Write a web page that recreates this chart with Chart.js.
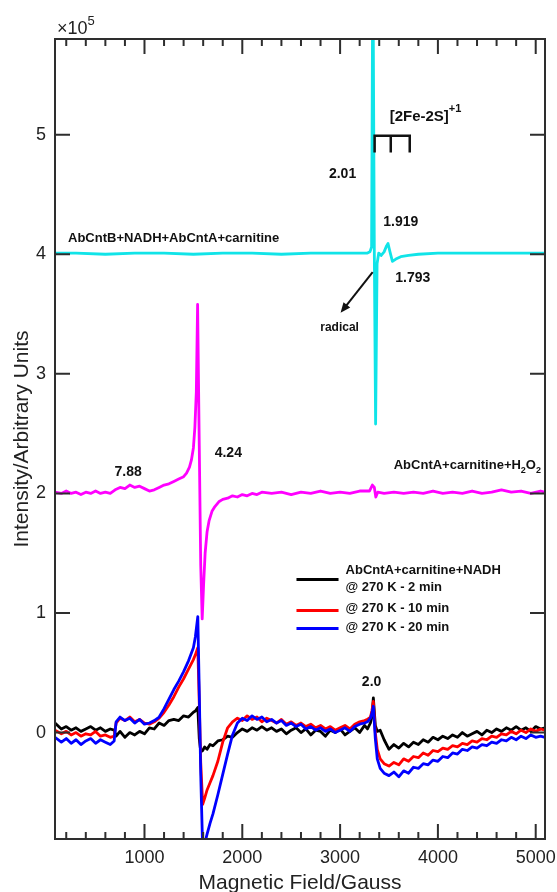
<!DOCTYPE html>
<html>
<head>
<meta charset="utf-8">
<script src="https://cdn.jsdelivr.net/npm/chart.js@4.4.1/dist/chart.umd.min.js"></script>
<style>
  html, body { margin: 0; padding: 0; background: #fff; }
</style>
</head>
<body>
<canvas id="eprChart" width="557" height="892"></canvas>
<script>
// field axis (Gauss) shared by the three AbCntA+carnitine+NADH traces
const fieldNadh = [
  85, 150, 200, 250, 300, 350, 400, 450, 500, 550,
  600, 650, 690, 710, 750, 800, 850, 900, 950, 1000,
  1050, 1100, 1150, 1200, 1250, 1300, 1350, 1400, 1450, 1500,
  1520, 1545, 1560, 1575, 1595, 1615, 1640, 1670, 1700, 1750,
  1800, 1850, 1900, 1950, 2000, 2050, 2100, 2150, 2200, 2250,
  2300, 2350, 2400, 2450, 2500, 2550, 2600, 2650, 2700, 2750,
  2800, 2850, 2900, 2950, 3000, 3050, 3100, 3150, 3200, 3250,
  3280, 3310, 3325, 3340, 3360, 3380, 3410, 3450, 3500, 3550,
  3600, 3650, 3700, 3750, 3800, 3850, 3900, 3950, 4000, 4050,
  4100, 4150, 4200, 4250, 4300, 4350, 4400, 4450, 4500, 4550,
  4600, 4650, 4700, 4750, 4800, 4850, 4900, 4950, 5000, 5050,
  5095
];
// intensity in units of 1e5
const nadh2min = [
  0.08, 0.03, 0.05, 0.02, 0.04, 0.01, 0.03, 0.05, 0.02, 0.04,
  0.01, 0.03, 0.02, -0.03, 0.01, -0.04, 0.00, -0.02, 0.01, -0.01,
  0.04, 0.03, 0.08, 0.06, 0.10, 0.11, 0.10, 0.14, 0.13, 0.17,
  0.18, 0.21, -0.05, -0.16, -0.15, -0.12, -0.14, -0.10, -0.11, -0.07,
  -0.06, -0.03, -0.04, 0.00, 0.03, 0.01, 0.04, 0.02, 0.05, 0.02,
  0.04, 0.01, 0.03, -0.01, 0.02, 0.04, 0.00, 0.03, -0.02, 0.02,
  0.01, -0.03, 0.02, 0.00, 0.03, -0.02, 0.01, 0.04, 0.00, 0.06,
  0.03, 0.08, 0.13, 0.29, 0.06, 0.01, 0.02, -0.06, -0.14, -0.10,
  -0.13, -0.09, -0.12, -0.08, -0.10, -0.06, -0.08, -0.04, -0.06, -0.03,
  -0.05, -0.02, -0.04, 0.00, -0.03, -0.01, 0.01, -0.02, 0.02, 0.00,
  0.03, 0.01, 0.04, 0.02, 0.05, 0.02, 0.04, 0.01, 0.05, 0.03,
  0.04
];
const nadh10min = [
  0.02, -0.01, 0.01, -0.02, 0.00, -0.03, -0.01, -0.02, 0.01, -0.03,
  -0.02, -0.04, -0.03, 0.08, 0.12, 0.10, 0.13, 0.09, 0.11, 0.08,
  0.07, 0.09, 0.12, 0.17, 0.23, 0.30, 0.38, 0.45, 0.53, 0.61,
  0.65, 0.71, 0.25, -0.25, -0.60, -0.55, -0.48, -0.42, -0.36, -0.24,
  -0.08, 0.04, 0.09, 0.12, 0.10, 0.14, 0.11, 0.13, 0.09, 0.12,
  0.10, 0.08, 0.11, 0.07, 0.09, 0.06, 0.08, 0.05, 0.07, 0.04,
  0.06, 0.03, 0.05, 0.02, 0.04, 0.06, 0.03, 0.07, 0.09, 0.10,
  0.11, 0.13, 0.18, 0.26, 0.00, -0.14, -0.22, -0.26, -0.28, -0.25,
  -0.27, -0.22, -0.24, -0.20, -0.21, -0.17, -0.19, -0.15, -0.16, -0.13,
  -0.14, -0.11, -0.12, -0.09, -0.10, -0.07, -0.08, -0.05, -0.06, -0.03,
  -0.04, -0.01, -0.02, 0.01, -0.01, 0.02, 0.00, 0.03, 0.01, 0.03,
  0.02
];
const nadh20min = [
  -0.04, -0.08, -0.05, -0.09, -0.06, -0.10, -0.07, -0.05, -0.09, -0.06,
  -0.08, -0.10, -0.07, 0.09, 0.13, 0.10, 0.12, 0.08, 0.11, 0.07,
  0.08, 0.10, 0.13, 0.20, 0.28, 0.36, 0.43, 0.51, 0.60, 0.71,
  0.80, 0.97, 0.35, -0.35, -0.98, -0.93, -0.85, -0.76, -0.68, -0.52,
  -0.35, -0.18, -0.02, 0.08, 0.12, 0.10, 0.14, 0.11, 0.13, 0.09,
  0.11, 0.08, 0.10, 0.06, 0.08, 0.05, 0.07, 0.03, 0.05, 0.02,
  0.04, 0.01, 0.03, 0.00, 0.02, 0.04, 0.01, 0.05, 0.07, 0.08,
  0.09, 0.12, 0.16, 0.22, -0.05, -0.22, -0.30, -0.34, -0.36, -0.33,
  -0.37, -0.32, -0.34, -0.29, -0.30, -0.26, -0.27, -0.23, -0.24, -0.20,
  -0.21, -0.17, -0.18, -0.14, -0.15, -0.12, -0.13, -0.10, -0.11, -0.08,
  -0.09, -0.06, -0.07, -0.04, -0.06, -0.03, -0.05, -0.02, -0.04, -0.03,
  -0.04
];

// AbCntA+carnitine+H2O2
const fieldH2o2 = [
  85, 150, 200, 250, 300, 350, 400, 450, 500, 550,
  600, 650, 700, 750, 800, 850, 900, 950, 1000, 1050,
  1100, 1150, 1200, 1250, 1300, 1350, 1400, 1430, 1460, 1480,
  1500, 1515, 1530, 1543, 1560, 1575, 1590, 1605, 1620, 1640,
  1660, 1690, 1720, 1760, 1800, 1850, 1900, 1950, 2000, 2050,
  2100, 2150, 2200, 2300, 2400, 2500, 2600, 2700, 2800, 2900,
  3000, 3100, 3200, 3300, 3330, 3350, 3365, 3385, 3450, 3550,
  3650, 3750, 3850, 3950, 4050, 4150, 4250, 4350, 4450, 4550,
  4650, 4750, 4850, 4950, 5050, 5095
];
const h2o2 = [
  2.01, 2.00, 2.02, 2.00, 2.01, 1.99, 2.01, 2.00, 2.02, 2.00,
  2.01, 2.00, 2.03, 2.05, 2.04, 2.07, 2.05, 2.06, 2.04, 2.02,
  2.03, 2.05, 2.07, 2.08, 2.10, 2.12, 2.14, 2.17, 2.22, 2.28,
  2.38, 2.55, 2.85, 3.58, 2.40, 1.40, 0.95, 1.25, 1.50, 1.68,
  1.77, 1.85, 1.89, 1.93, 1.95, 1.96, 1.98, 1.97, 1.99, 1.98,
  2.00, 1.99, 2.01, 2.00, 2.01, 1.99, 2.01, 2.00, 2.02, 2.00,
  2.01, 2.00, 2.02, 2.02, 2.07, 2.05, 1.97, 2.01, 2.00, 2.01,
  2.00, 2.01, 2.00, 2.02, 2.00, 2.01, 2.00, 2.02, 2.00, 2.01,
  2.03, 2.01, 2.02, 2.00, 2.02, 2.01
];

// AbCntB+NADH+AbCntA+carnitine
const fieldCntB = [
  85, 300, 600, 900, 1200, 1500, 1800, 2100, 2400, 2700,
  3000, 3200, 3280, 3305, 3322, 3335, 3350, 3363, 3378, 3395,
  3420, 3450, 3475, 3490, 3510, 3535, 3570, 3620, 3700, 3800,
  4000, 4300, 4600, 4900, 5095
];
const cntB = [
  4.01, 4.01, 4.00, 4.01, 4.01, 4.00, 4.01, 4.01, 4.00, 4.01,
  4.01, 4.01, 4.01, 4.02, 4.06, 6.60, 4.00, 2.58, 3.92, 4.01,
  3.99, 4.02, 4.07, 4.09, 4.02, 3.94, 3.96, 3.98, 3.99, 4.00,
  4.01, 4.01, 4.01, 4.01, 4.01
];

const xTicks = [1000, 2000, 3000, 4000, 5000];
const yTicks = [0, 1, 2, 3, 4, 5];

const FONT = '"Liberation Sans", Arial, Helvetica, sans-serif';

function pairs(xs, ys) {
  return xs.map((x, i) => ({ x: x, y: ys[i] }));
}

function runs(ctx, parts, x, y, align) {
  let w = 0;
  parts.forEach(p => { ctx.font = p.font; w += ctx.measureText(p.t).width; });
  let cx = align === 'right' ? x - w : align === 'center' ? x - w / 2 : x;
  ctx.textAlign = 'left';
  parts.forEach(p => {
    ctx.font = p.font;
    ctx.fillText(p.t, cx, y + (p.dy || 0));
    cx += ctx.measureText(p.t).width;
  });
}

const decorations = {
  id: 'decorations',
  afterDatasetsDraw(chart) {
    const { ctx, chartArea: a, scales } = chart;
    const X = v => scales.x.getPixelForValue(v);
    const Y = v => scales.y.getPixelForValue(v);
    const b13 = 'bold 13px ' + FONT;
    const b14 = 'bold 14px ' + FONT;

    ctx.save();

    // box + inward ticks
    ctx.strokeStyle = '#2e2e2e';
    ctx.lineWidth = 2;
    ctx.strokeRect(a.left, a.top, a.right - a.left, a.bottom - a.top);
    ctx.beginPath();
    for (let v = 200; v <= 5000; v += 200) {
      const len = v % 1000 === 0 ? 15 : 7;
      const px = X(v);
      ctx.moveTo(px, a.bottom); ctx.lineTo(px, a.bottom - len);
      ctx.moveTo(px, a.top); ctx.lineTo(px, a.top + len);
    }
    yTicks.forEach(v => {
      const py = Y(v);
      ctx.moveTo(a.left, py); ctx.lineTo(a.left + 15, py);
      ctx.moveTo(a.right, py); ctx.lineTo(a.right - 15, py);
    });
    ctx.stroke();

    // axis titles and exponent
    ctx.fillStyle = '#222';
    ctx.textBaseline = 'middle';
    ctx.font = '21px ' + FONT;
    ctx.textAlign = 'center';
    ctx.fillText('Magnetic Field/Gauss', (a.left + a.right) / 2, a.bottom + 44);
    ctx.save();
    ctx.translate(22, (a.top + a.bottom) / 2);
    ctx.rotate(-Math.PI / 2);
    ctx.fillText('Intensity/Arbitrary Units', 0, 0);
    ctx.restore();
    runs(ctx, [
      { t: '\u00d710', font: '18px ' + FONT },
      { t: '5', font: '13px ' + FONT, dy: -8 }
    ], a.left + 2, a.top - 10, 'left');

    // annotations
    ctx.fillStyle = '#111';
    ctx.font = b14;
    ctx.textAlign = 'center';
    ctx.fillText('2.01', X(3025), Y(4.67));
    ctx.fillText('1.919', X(3620), Y(4.27));
    ctx.fillText('1.793', X(3743), Y(3.80));
    ctx.fillText('7.88', X(833), Y(2.18));
    ctx.fillText('4.24', X(1857), Y(2.34));
    ctx.fillText('2.0', X(3322), Y(0.42));
    ctx.font = 'bold 12px ' + FONT;
    ctx.fillText('radical', X(2995), Y(3.39));

    runs(ctx, [
      { t: '[2Fe-2S]', font: 'bold 15px ' + FONT },
      { t: '+1', font: 'bold 11px ' + FONT, dy: -8 }
    ], X(3507), Y(5.15), 'left');

    ctx.font = b13;
    ctx.textAlign = 'left';
    ctx.fillText('AbCntB+NADH+AbCntA+carnitine', X(218), Y(4.13));
    runs(ctx, [
      { t: 'AbCntA+carnitine+H', font: b13 },
      { t: '2', font: 'bold 9px ' + FONT, dy: 5 },
      { t: 'O', font: b13 },
      { t: '2', font: 'bold 9px ' + FONT, dy: 5 }
    ], X(5054), Y(2.23), 'right');

    // [2Fe-2S] stick bracket
    ctx.strokeStyle = '#111';
    ctx.lineWidth = 2.5;
    ctx.beginPath();
    ctx.moveTo(X(3353), Y(4.85)); ctx.lineTo(X(3353), Y(4.99));
    ctx.lineTo(X(3712), Y(4.99)); ctx.lineTo(X(3712), Y(4.85));
    ctx.moveTo(X(3518), Y(4.99)); ctx.lineTo(X(3518), Y(4.85));
    ctx.stroke();

    // radical arrow
    const x0 = X(3333), y0 = Y(3.85), x1 = X(3005), y1 = Y(3.51);
    const ang = Math.atan2(y1 - y0, x1 - x0);
    ctx.lineWidth = 2;
    ctx.beginPath();
    ctx.moveTo(x0, y0);
    ctx.lineTo(x1 - 6 * Math.cos(ang), y1 - 6 * Math.sin(ang));
    ctx.stroke();
    ctx.fillStyle = '#111';
    ctx.beginPath();
    ctx.moveTo(x1, y1);
    ctx.lineTo(x1 - 11 * Math.cos(ang - 0.4), y1 - 11 * Math.sin(ang - 0.4));
    ctx.lineTo(x1 - 11 * Math.cos(ang + 0.4), y1 - 11 * Math.sin(ang + 0.4));
    ctx.closePath();
    ctx.fill();

    // legend
    const legend = [
      { color: '#000000', y: 1.28 },
      { color: '#ff0000', y: 1.02 },
      { color: '#0000ff', y: 0.87 }
    ];
    ctx.lineWidth = 3;
    legend.forEach(l => {
      ctx.strokeStyle = l.color;
      ctx.beginPath();
      ctx.moveTo(X(2554), Y(l.y));
      ctx.lineTo(X(2984), Y(l.y));
      ctx.stroke();
    });
    ctx.fillStyle = '#111';
    ctx.font = b13;
    ctx.textAlign = 'left';
    ctx.fillText('AbCntA+carnitine+NADH', X(3056), Y(1.356));
    ctx.fillText('@ 270 K - 2 min', X(3056), Y(1.213));
    ctx.fillText('@ 270 K - 10 min', X(3056), Y(1.038));
    ctx.fillText('@ 270 K - 20 min', X(3056), Y(0.879));

    ctx.restore();
  }
};

const canvas = document.getElementById('eprChart');

new Chart(canvas, {
  type: 'line',
  data: {
    datasets: [
      { label: '@ 270 K - 20 min', data: pairs(fieldNadh, nadh20min), borderColor: '#0000ff', order: 1 },
      { label: '@ 270 K - 10 min', data: pairs(fieldNadh, nadh10min), borderColor: '#ff0000', order: 2 },
      { label: 'AbCntA+carnitine+NADH @ 270 K - 2 min', data: pairs(fieldNadh, nadh2min), borderColor: '#000000', order: 3 },
      { label: 'AbCntA+carnitine+H2O2', data: pairs(fieldH2o2, h2o2), borderColor: '#ff00ff', order: 4 },
      { label: 'AbCntB+NADH+AbCntA+carnitine', data: pairs(fieldCntB, cntB), borderColor: '#10e4e8', order: 5 }
    ]
  },
  options: {
    responsive: false,
    animation: false,
    events: [],
    layout: { padding: { top: 39, right: 12, left: 0, bottom: 0 } },
    elements: {
      line: { borderWidth: 2.8, tension: 0, fill: false, borderJoinStyle: 'round' },
      point: { radius: 0 }
    },
    plugins: { legend: { display: false }, tooltip: { enabled: false } },
    scales: {
      x: {
        type: 'linear',
        min: 85,
        max: 5095,
        afterBuildTicks: s => { s.ticks = xTicks.map(v => ({ value: v })); },
        afterFit: s => { s.height = 53; s.paddingLeft = 0; s.paddingRight = 0; },
        grid: { display: false, drawTicks: false },
        border: { display: false },
        ticks: {
          autoSkip: false,
          maxRotation: 0,
          padding: 8,
          color: '#222',
          font: { family: FONT, size: 18 },
          callback: v => String(v)
        }
      },
      y: {
        type: 'linear',
        min: -0.89,
        max: 5.8,
        afterBuildTicks: s => { s.ticks = yTicks.map(v => ({ value: v })); },
        afterFit: s => { s.width = 55; s.paddingTop = 0; s.paddingBottom = 0; },
        grid: { display: false, drawTicks: false },
        border: { display: false },
        ticks: {
          padding: 9,
          color: '#222',
          font: { family: FONT, size: 18 },
          callback: v => String(v)
        }
      }
    }
  },
  plugins: [decorations]
});
</script>
</body>
</html>
